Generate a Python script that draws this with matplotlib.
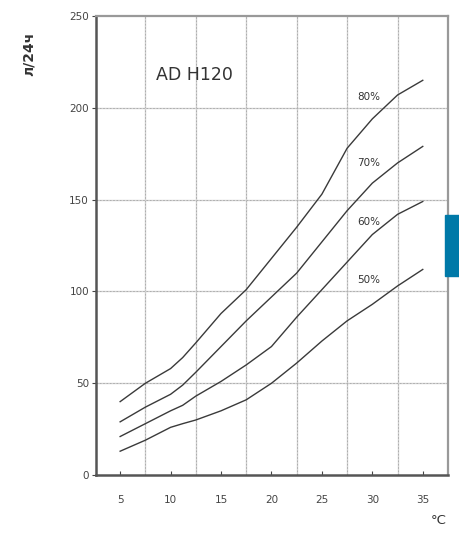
import matplotlib
matplotlib.use("Agg")
import matplotlib.pyplot as plt
from matplotlib.patches import Rectangle

temps = [5, 7.5, 10, 11.2, 12.5, 15, 17.5, 20, 22.5, 25, 27.5, 30, 32.5, 35]
rh80 = [40, 50, 58, 64, 72, 88, 101, 118, 135, 153, 178, 194, 207, 215]
rh70 = [29, 37, 44, 49, 56, 70, 84, 97, 110, 127, 144, 159, 170, 179]
rh60 = [21, 28, 35, 38, 43, 51, 60, 70, 86, 101, 116, 131, 142, 149]
rh50 = [13, 19, 26, 28, 30, 35, 41, 50, 61, 73, 84, 93, 103, 112]
series = {"80%": rh80, "70%": rh70, "60%": rh60, "50%": rh50}
label_pos = {"80%": 206, "70%": 170, "60%": 138, "50%": 106}

xticks = [5, 10, 15, 20, 25, 30, 35]
yticks = [0, 50, 100, 150, 200, 250]
xgrid = [7.5, 12.5, 17.5, 22.5, 27.5, 32.5]
ygrid = [50, 100, 150, 200]

fig = plt.figure(figsize=(4.59, 5.35), dpi=100)
ax = fig.add_axes([0.209, 0.112, 0.767, 0.858])
ax.set_xlim(2.6, 37.5)
ax.set_ylim(0, 250)

for g in xgrid:
    ax.axvline(g, color="#d2d2d2", lw=1.0, zorder=1)
    ax.axvline(g, color="#a8a8a8", lw=0.6, ls=(0, (2, 2)), zorder=1)
for g in ygrid:
    ax.axhline(g, color="#d2d2d2", lw=1.0, zorder=1)
    ax.axhline(g, color="#a8a8a8", lw=0.6, ls=(0, (2, 2)), zorder=1)

for name, vals in series.items():
    ax.plot(temps, vals, color="#3a3a3a", lw=1.0, zorder=3)
    ax.text(28.5, label_pos[name], name, fontsize=7.5, color="#333333",
            ha="left", va="center", zorder=4)

ax.text(8.6, 218, "AD H120", fontsize=12.5, color="#333333", ha="left", va="center")

ax.set_xticks(xticks)
ax.set_yticks(yticks)
ax.tick_params(axis="x", direction="in", length=3, labelsize=7.5, colors="#444444", pad=14)
ax.tick_params(axis="y", direction="out", length=3, labelsize=7.5, colors="#444444", pad=2)

for s in ["left", "bottom"]:
    ax.spines[s].set_color("#555555")
    ax.spines[s].set_linewidth(1.8)
for s in ["top", "right"]:
    ax.spines[s].set_color("#999999")
    ax.spines[s].set_linewidth(1.6)

fig.text(0.062, 0.90, "л/24ч", rotation=90, fontsize=10, fontweight="bold",
         color="#333333", ha="center", va="center")
fig.text(0.955, 0.015, "°C", fontsize=9.5, color="#333333", ha="center", va="bottom")

fig.add_artist(Rectangle((445 / 459, 1 - 276 / 535), 14 / 459, 61 / 535,
                         transform=fig.transFigure, color="#0079a8", zorder=10))

fig.savefig("out.png", dpi=100)
